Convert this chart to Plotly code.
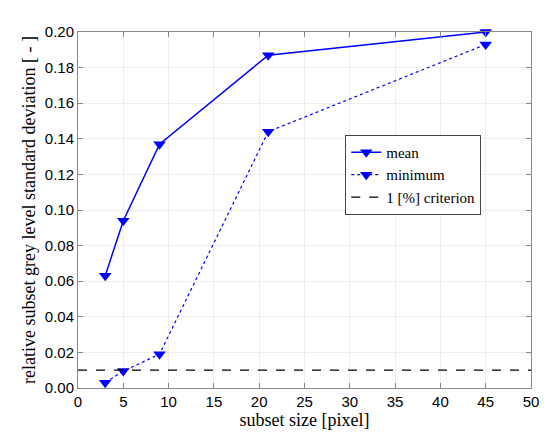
import plotly.graph_objects as go

subset_size = [3, 5, 9, 21, 45]
mean_vals = [0.063, 0.094, 0.137, 0.187, 0.200]
min_vals = [0.003, 0.0095, 0.019, 0.144, 0.193]
criterion_x = [0, 50]
criterion_y = [0.01, 0.01]

x_ticks = [0, 5, 10, 15, 20, 25, 30, 35, 40, 45, 50]
y_ticks = [0.00, 0.02, 0.04, 0.06, 0.08, 0.10, 0.12, 0.14, 0.16, 0.18, 0.20]

SERIF = "Liberation Serif, Times New Roman, serif"

fig = go.Figure()
fig.add_trace(go.Scatter(
    x=subset_size, y=mean_vals, name="mean", mode="lines+markers",
    line=dict(color="#0000ff", width=1.5),
    marker=dict(symbol="triangle-down", size=11, color="#0000ff"),
    cliponaxis=False,
))
fig.add_trace(go.Scatter(
    x=subset_size, y=min_vals, name="minimum", mode="lines+markers",
    line=dict(color="#0000ff", width=1.2, dash="dot"),
    marker=dict(symbol="triangle-down", size=11, color="#0000ff"),
    cliponaxis=False,
))
fig.add_trace(go.Scatter(
    x=criterion_x, y=criterion_y, name="1 [%] criterion", mode="lines",
    line=dict(color="black", width=1.3, dash="dash"),
))

axis_common = dict(
    showline=True, linecolor="#888888", linewidth=1, mirror="ticks",
    ticks="inside", ticklen=5, tickcolor="#888888",
    showgrid=True, gridcolor="#eeeeee", gridwidth=1, zeroline=False,
    tickfont=dict(family="Liberation Sans, Arial", size=15, color="black"),
    ticklabeloverflow="allow",
)

fig.update_layout(
    width=547, height=439,
    margin=dict(l=78, r=8, t=32, b=51),
    plot_bgcolor="white", paper_bgcolor="white",
    xaxis=dict(range=[0, 50], tickvals=x_ticks, ticktext=[str(v) for v in x_ticks],
               title=dict(text="subset size [pixel]", standoff=2,
                          font=dict(family=SERIF, size=18, color="black")),
               **axis_common),
    yaxis=dict(range=[0, 0.2], tickvals=y_ticks, ticktext=[f"{v:.2f}" for v in y_ticks],
               title=dict(text="relative subset grey level standard deviation [ - ]", standoff=4,
                          font=dict(family=SERIF, size=18, color="black")),
               **axis_common),
    legend=dict(x=0.59, y=0.711, xanchor="left", yanchor="top",
                bordercolor="#444444", borderwidth=1, bgcolor="white",
                font=dict(family=SERIF, size=15, color="black"),
                tracegroupgap=0, itemwidth=30),
    showlegend=True,
)

fig.write_html("out.html")
